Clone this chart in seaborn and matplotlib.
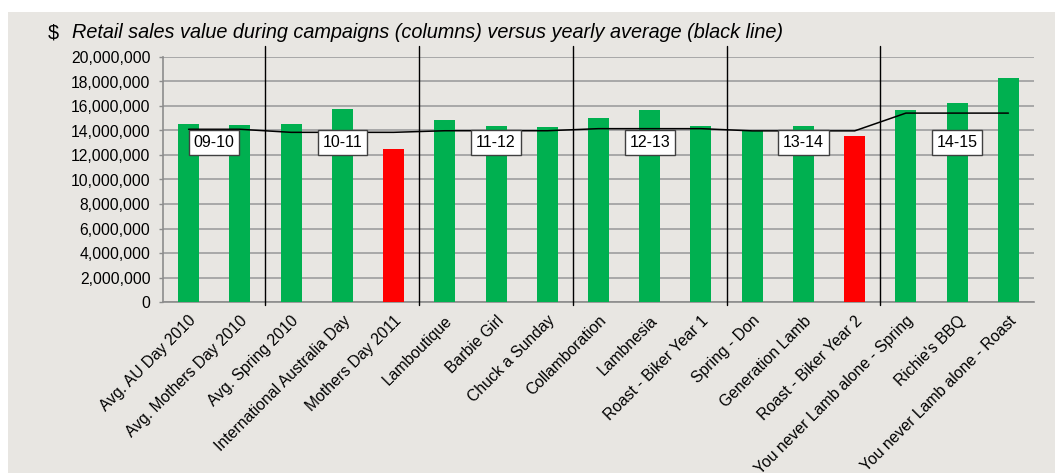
import numpy as np
import pandas as pd
import seaborn as sns
import matplotlib.pyplot as plt
from matplotlib.patches import Rectangle
from matplotlib.ticker import FuncFormatter, FixedLocator

campaigns = [
    "Avg. AU Day 2010", "Avg. Mothers Day 2010", "Avg. Spring 2010",
    "International Australia Day", "Mothers Day 2011", "Lamboutique",
    "Barbie Girl", "Chuck a Sunday", "Collamboration", "Lambnesia",
    "Roast - Biker Year 1", "Spring - Don", "Generation Lamb",
    "Roast - Biker Year 2", "You never Lamb alone - Spring", "Richie's BBQ",
    "You never Lamb alone - Roast",
]
sales = [14.55e6, 14.47e6, 14.55e6, 15.77e6, 12.51e6, 14.87e6, 14.38e6,
         14.30e6, 15.03e6, 15.70e6, 14.38e6, 13.98e6, 14.38e6, 13.57e6,
         15.70e6, 16.26e6, 18.30e6]
yearly_avg = [14.10e6, 14.10e6, 13.85e6, 13.85e6, 13.85e6, 13.98e6, 13.98e6,
              13.98e6, 14.15e6, 14.15e6, 14.15e6, 13.97e6, 13.97e6, 13.97e6,
              15.42e6, 15.42e6, 15.42e6]
flag = ["ok", "ok", "ok", "ok", "low", "ok", "ok", "ok", "ok", "ok", "ok",
        "ok", "ok", "low", "ok", "ok", "ok"]
years = ["09-10", "10-11", "11-12", "12-13", "13-14", "14-15"]
year_label_pos = [0.5, 3, 6, 9, 12, 15]
year_breaks = [1.5, 4.5, 7.5, 10.5, 13.5]

df = pd.DataFrame({"campaign": campaigns, "sales": sales, "flag": flag,
                   "avg": yearly_avg, "pos": np.arange(len(campaigns))})

sns.set_theme(style="white")
plt.rcParams["font.family"] = ["Liberation Sans", "DejaVu Sans"]
plt.rcParams["text.color"] = "black"
plt.rcParams["xtick.color"] = "black"
plt.rcParams["ytick.color"] = "black"

bg = "#E8E6E2"
fig = plt.figure(figsize=(10.55, 4.73), dpi=100, facecolor="white")
fig.patches.append(Rectangle((8 / 1055, 0), 1, 1 - 12 / 473,
                             transform=fig.transFigure, facecolor=bg,
                             edgecolor="none", zorder=-10))
ax = fig.add_axes([163 / 1055, 1 - 302 / 473, (1034 - 163) / 1055, 245 / 473])
ax.set_facecolor(bg)

sns.barplot(data=df, x="campaign", y="sales", hue="flag",
            palette={"ok": "#00B050", "low": "#FF0000"}, dodge=False,
            saturation=1, width=0.41, legend=False, linewidth=0,
            edgecolor="none", ax=ax, zorder=3)
sns.lineplot(data=df, x="pos", y="avg", color="black", linewidth=1.1,
             sort=False, ax=ax, zorder=4)

ax.set_xlim(-0.5, len(campaigns) - 0.5)
ax.set_ylim(0, 20e6)
ax.yaxis.set_major_locator(FixedLocator(np.arange(0, 20e6 + 1, 2e6)))
ax.yaxis.set_major_formatter(FuncFormatter(lambda v, p: f"{v:,.0f}"))
ax.grid(axis="y", color="#A3A3A3", linewidth=1.3, zorder=1)
ax.set_axisbelow(True)

ax.set_xticks(np.arange(len(campaigns)))
ax.set_xticklabels(campaigns, rotation=45, ha="right",
                   rotation_mode="anchor", fontsize=11.3)
ax.set_xticks(np.arange(-0.5, len(campaigns)), minor=True)
ax.tick_params(axis="x", which="major", length=0, pad=8)
ax.tick_params(axis="x", which="minor", length=4, color="#8C8C8C",
               width=1, direction="out")
ax.tick_params(axis="y", length=3, color="#8C8C8C", width=1, pad=6,
               labelsize=11.3, direction="out", left=True)
ax.set_xlabel("")
ax.set_ylabel("")
for s in ["top", "right"]:
    ax.spines[s].set_visible(False)
for s in ["left", "bottom"]:
    ax.spines[s].set_color("#8C8C8C")
    ax.spines[s].set_linewidth(1.2)

# year separators
trans = ax.get_xaxis_transform()
for xb in year_breaks:
    ax.plot([xb, xb], [-0.012, 1.045], color="black", linewidth=1,
            transform=trans, clip_on=False, zorder=5)

# year labels
for lab, xp in zip(years, year_label_pos):
    ax.text(xp, 13.04e6, lab, ha="center", va="center", fontsize=11.5,
            zorder=6,
            bbox=dict(boxstyle="square,pad=0.3", facecolor="white",
                      edgecolor="#404040", linewidth=1))

fig.text(48 / 1055, 1 - 38.5 / 473, "$", fontsize=14.3, va="baseline")
fig.text(72 / 1055, 1 - 38.5 / 473,
         "Retail sales value during campaigns (columns) versus yearly average (black line)",
         fontsize=14.3, style="italic", va="baseline")

fig.savefig("out.png", dpi=100, facecolor="white")
